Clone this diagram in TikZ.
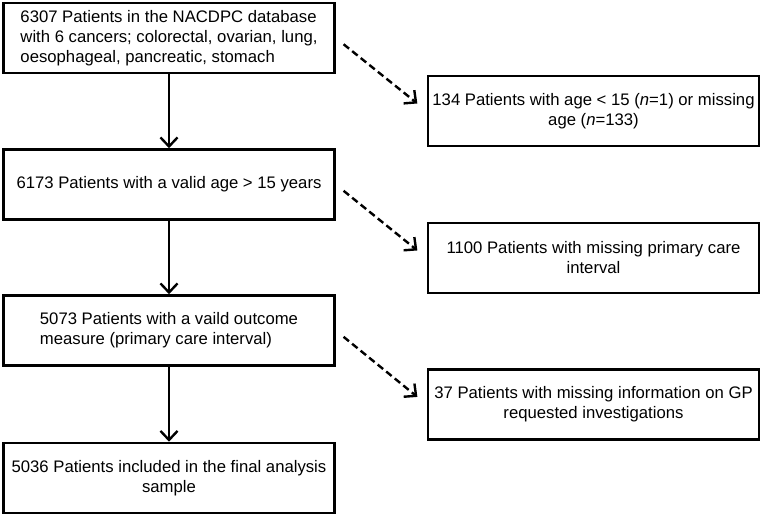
\documentclass[tikz,border=0pt]{standalone}
\usepackage{fontspec}
\setmainfont{Liberation Sans}
\usetikzlibrary{arrows.meta}

\tikzset{
  box/.style={draw, line width=2.6pt, minimum width=331pt, minimum height=70pt,
    inner sep=0pt, font=\fontsize{16.7}{20}\selectfont},
  flow/.style={-{Straight Barb[length=9pt,width=17pt]}, line width=2.4pt},
  skip/.style={flow, dash pattern=on 7pt off 4pt, shorten <=10pt, shorten >=12pt}
}

\begin{document}
\begin{tikzpicture}
		\useasboundingbox (0pt,0pt) rectangle (763pt,-517pt);
		
		% Main stream of patients
		\node[box, align=left] (all) at (169pt,-38pt)
		  {6307 Patients in the NACDPC database\\with 6 cancers; colorectal, ovarian, lung,\\oesophageal, pancreatic, stomach};
		\node[box] (valid) at (169pt,-184.5pt) {6173 Patients with a valid age > 15 years};
		\node[box, align=left] (outcome) at (169pt,-330.5pt)
		  {5073 Patients with a vaild outcome\\measure (primary care interval)};
		\node[box, align=center] (final) at (169pt,-478pt)
		  {5036 Patients included in the final analysis\\sample};
		
		% Excluded patients
		\node[box, align=center] (noage) at (593.5pt,-111pt)
		  {134 Patients with age < 15 (\textit{n}=1) or missing\\age (\textit{n}=133)};
		\node[box, align=center] (nointerval) at (593.5pt,-258pt)
		  {1100 Patients with missing primary care\\interval};
		\node[box, align=center] (noinfo) at (593.5pt,-404.5pt)
		  {37 Patients with missing information on GP\\requested investigations};
		
		% Connect the boxes
		\draw[flow] (all) -- (valid);
		\draw[flow] (valid) -- (outcome);
		\draw[flow] (outcome) -- (final);
		\draw[skip] (all.east) -- (noage.west);
		\draw[skip] (valid.east) -- (nointerval.west);
		\draw[skip] (outcome.east) -- (noinfo.west);
		
	\end{tikzpicture}
\end{document}
